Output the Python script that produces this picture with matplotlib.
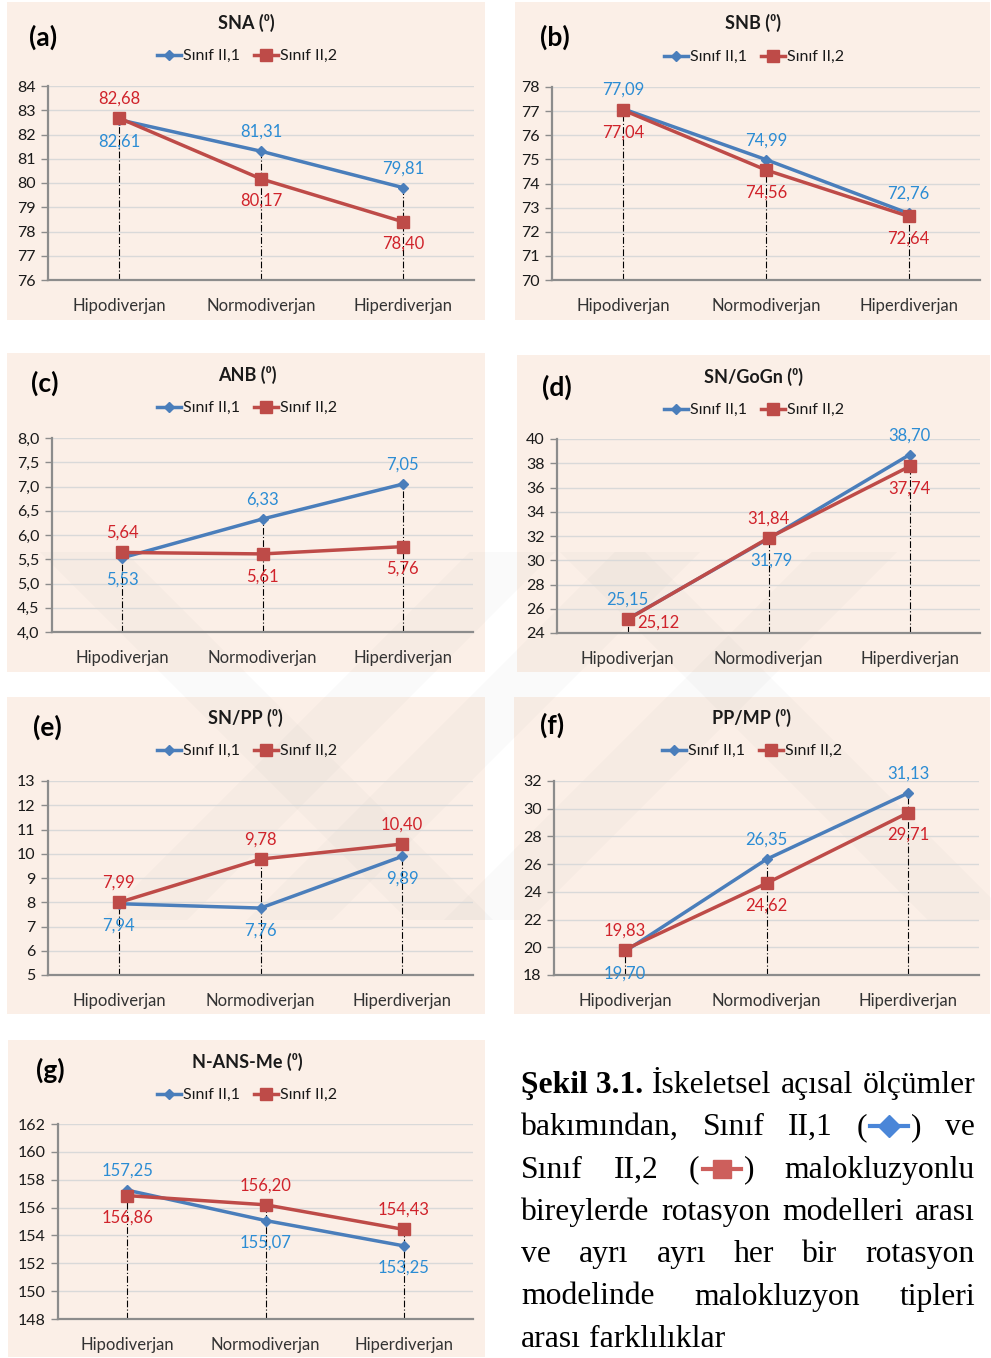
import matplotlib as ml
ml.use('Agg')
import matplotlib.pyplot as plt
from matplotlib.patches import Rectangle, Polygon
from matplotlib.lines import Line2D

W, H = 991, 1358

categories = ['Hipodiverjan', 'Normodiverjan', 'Hiperdiverjan']
series_names = ['Sınıf II,1', 'Sınıf II,2']

sna_1 = [82.61, 81.31, 79.81]
sna_2 = [82.68, 80.17, 78.40]
snb_1 = [77.09, 74.99, 72.76]
snb_2 = [77.04, 74.56, 72.64]
anb_1 = [5.53, 6.33, 7.05]
anb_2 = [5.64, 5.61, 5.76]
sngogn_1 = [25.15, 31.79, 38.70]
sngogn_2 = [25.12, 31.84, 37.74]
snpp_1 = [7.94, 7.76, 9.89]
snpp_2 = [7.99, 9.78, 10.40]
ppmp_1 = [19.70, 26.35, 31.13]
ppmp_2 = [19.83, 24.62, 29.71]
nansme_1 = [157.25, 155.07, 153.25]
nansme_2 = [156.86, 156.20, 154.43]

BLUE = '#4a7ebb'
RED = '#be4b48'
BLUE_TXT = '#2b8cd4'
RED_TXT = '#d0232b'
PANEL_BG = '#fbefe7'
SANS = ['Lato', 'DejaVu Sans']
SERIF = ['Liberation Serif', 'DejaVu Serif']

plt.rcParams['font.family'] = SANS


def fx(px):
    return px / W


def fy(py):
    return 1 - py / H


fig = plt.figure(figsize=(W / 100, H / 100), dpi=100)
fig.patch.set_facecolor('white')


# faint background logo, diagonal bands
def band(x_top, y0, y1, width, direction):
    dy = y1 - y0
    xb = x_top + direction * dy
    pts = [(x_top, y0), (x_top + width, y0), (xb + width, y1), (xb, y1)]
    return Polygon([(fx(a), fy(b)) for a, b in pts], closed=True,
                   transform=fig.transFigure, facecolor='#808080',
                   edgecolor='none', alpha=0.035, zorder=-1)


for xt, d in [(40, 1), (470, -1), (615, -1), (812, -1), (560, 1)]:
    fig.patches.append(band(xt, 552, 920, 85, d))


def panel(bg, ax_box, title, title_xy, tag, tag_xy, legend_xy,
          v1, v2, ylim, ystep, fmt, pos1, pos2):
    x0, y0, x1, y1 = bg
    fig.patches.append(Rectangle((fx(x0), fy(y1)), fx(x1 - x0), (y1 - y0) / H,
                                 transform=fig.transFigure, facecolor=PANEL_BG,
                                 edgecolor='none', zorder=-2))
    l, t, r, b = ax_box
    ax = fig.add_axes([fx(l), fy(b), fx(r - l), (b - t) / H])
    ax.set_facecolor('none')
    xs = list(range(len(categories)))

    # drop lines from the axis up to the higher point
    for i in xs:
        ax.plot([i, i], [ylim[0], max(v1[i], v2[i])], color='black', lw=0.8,
                ls=(0, (6, 2, 1, 2)), zorder=2)

    h1, = ax.plot(xs, v1, color=BLUE, lw=2.5, marker='D', ms=5,
                  mfc=BLUE, mec=BLUE, zorder=4, label=series_names[0])
    h2, = ax.plot(xs, v2, color=RED, lw=2.5, marker='s', ms=8,
                  mfc=RED, mec=RED, zorder=5, label=series_names[1])

    for vals, pos, col in [(v1, pos1, BLUE_TXT), (v2, pos2, RED_TXT)]:
        for i, v in enumerate(vals):
            ax.annotate(('%.2f' % v).replace('.', ','), (i, v),
                        xytext=pos[i], textcoords='offset points',
                        ha='center', va='center', fontsize=12, color=col,
                        zorder=6)

    ax.set_xlim(-0.5, len(categories) - 0.5)
    ax.set_ylim(*ylim)
    ticks = []
    t_ = ylim[0]
    while t_ <= ylim[1] + 1e-9:
        ticks.append(round(t_, 3))
        t_ += ystep
    ax.set_yticks(ticks)
    ax.set_yticklabels([(fmt % v).replace('.', ',') for v in ticks])
    ax.set_xticks(xs)
    ax.set_xticklabels(categories)
    ax.tick_params(axis='y', length=5, width=1, color='#8c8c8c', labelsize=11.5,
                   labelcolor='#1a1a1a', pad=4)
    ax.tick_params(axis='x', length=0, labelsize=12, labelcolor='#333333', pad=13)
    ax.grid(axis='y', color='#d9d9d9', lw=1)
    ax.set_axisbelow(True)
    for s in ['top', 'right']:
        ax.spines[s].set_visible(False)
    for s in ['left', 'bottom']:
        ax.spines[s].set_color('#8c8c8c')
        ax.spines[s].set_linewidth(1.6)

    fig.text(fx(title_xy[0]), fy(title_xy[1]), title, ha='center', va='center',
             fontsize=13, fontweight='bold', color='#1a1a1a')
    fig.text(fx(tag_xy[0]), fy(tag_xy[1]), tag, ha='center', va='center',
             fontsize=19, fontweight='bold', color='black')
    fig.legend(handles=[h1, h2], loc='center',
               bbox_to_anchor=(fx(legend_xy[0]), fy(legend_xy[1])),
               ncol=2, frameon=False, fontsize=11.5, handlelength=1.5,
               handletextpad=0.1, columnspacing=0.9, borderpad=0,
               labelcolor='#1a1a1a')
    return ax


UP = (0, 14)
DN = (0, -16)

panel((7, 2, 485, 320), (48, 86, 474, 280), 'SNA (⁰)', (246, 23), '(a)', (43, 37),
      (247, 56), sna_1, sna_2, (76, 84), 1, '%d', [DN, UP, UP], [UP, DN, DN])
panel((515, 2, 990, 320), (552, 87, 980, 280), 'SNB (⁰)', (753, 23), '(b)', (555, 37),
      (754, 57), snb_1, snb_2, (70, 78), 1, '%d', [UP, UP, UP], [DN, DN, DN])
panel((7, 353, 485, 672), (52, 438, 473, 632), 'ANB (⁰)', (247, 375), '(c)', (45, 383),
      (247, 408), anb_1, anb_2, (4.0, 8.0), 0.5, '%.1f', [DN, UP, UP], [UP, DN, DN])
panel((517, 355, 990, 672), (557, 439, 980, 633), 'SN/GoGn (⁰)', (753, 377), '(d)',
      (557, 387), (754, 410), sngogn_1, sngogn_2, (24, 40), 2, '%d',
      [UP, (2, -16), UP], [(22, -2), UP, DN])
panel((7, 697, 485, 1014), (48, 781, 473, 975), 'SN/PP (⁰)', (245, 718), '(e)', (47, 727),
      (247, 751), snpp_1, snpp_2, (5, 13), 1, '%d', [DN, DN, DN], [UP, UP, UP])
panel((514, 697, 990, 1014), (554, 781, 979, 975), 'PP/MP (⁰)', (752, 718), '(f)',
      (552, 725), (752, 751), ppmp_1, ppmp_2, (18, 32), 2, '%d',
      [DN, UP, UP], [UP, DN, DN])
panel((8, 1040, 485, 1357), (58, 1124, 473, 1319), 'N-ANS-Me (⁰)', (247, 1062), '(g)',
      (50, 1070), (247, 1095), nansme_1, nansme_2, (148, 162), 2, '%d',
      [UP, DN, DN], [DN, UP, UP])

# caption, justified word by word
cap_lines = [
    [('Şekil 3.1.', 'bold'), ('İskeletsel', 'normal'), ('açısal', 'normal'),
     ('ölçümler', 'normal')],
    [('bakımından,', 'normal'), ('Sınıf', 'normal'), ('II,1', 'normal'),
     ('SYM1', None), ('ve', 'normal')],
    [('Sınıf', 'normal'), ('II,2', 'normal'), ('SYM2', None),
     ('malokluzyonlu', 'normal')],
    [('bireylerde', 'normal'), ('rotasyon', 'normal'), ('modelleri', 'normal'),
     ('arası', 'normal')],
    [('ve', 'normal'), ('ayrı', 'normal'), ('ayrı', 'normal'), ('her', 'normal'),
     ('bir', 'normal'), ('rotasyon', 'normal')],
    [('modelinde', 'normal'), ('malokluzyon', 'normal'), ('tipleri', 'normal')],
    [('arası', 'normal'), ('farklılıklar', 'normal')],
]
CAP_LEFT, CAP_RIGHT = 521, 975
CAP_Y0, CAP_DY = 1093, 42.3
CAP_SIZE = 22.8
SYM_W = 44

fig.canvas.draw()
rend = fig.canvas.get_renderer()


def text_w(s, weight):
    t = fig.text(0, 0, s, fontsize=CAP_SIZE, family=SERIF, fontweight=weight)
    w = t.get_window_extent(rend).width
    t.remove()
    return w


paren_w = text_w('(', 'normal')
close_w = text_w(')', 'normal')
space_w = text_w('a a', 'normal') - text_w('aa', 'normal')

for li, words in enumerate(cap_lines):
    y = CAP_Y0 + li * CAP_DY
    widths = []
    for s, wt in words:
        if s.startswith('SYM'):
            widths.append(paren_w + SYM_W + close_w)
        else:
            widths.append(text_w(s, wt))
    if li == len(cap_lines) - 1:
        gap = space_w
    else:
        gap = (CAP_RIGHT - CAP_LEFT - sum(widths)) / (len(words) - 1)
    x = CAP_LEFT
    for (s, wt), w in zip(words, widths):
        if s.startswith('SYM'):
            fig.text(fx(x), fy(y), '(', fontsize=CAP_SIZE, family=SERIF,
                     va='baseline', ha='left')
            cx0 = x + paren_w + 3
            cx1 = x + paren_w + SYM_W - 3
            ym = y - 9
            if s == 'SYM1':
                col, mk, ms = '#4a86d8', 'D', 11
            else:
                col, mk, ms = '#cd5f5c', 's', 13
            fig.add_artist(Line2D([fx(cx0), fx(cx1)], [fy(ym), fy(ym)],
                                  transform=fig.transFigure, color=col, lw=3))
            fig.add_artist(Line2D([fx((cx0 + cx1) / 2)], [fy(ym)],
                                  transform=fig.transFigure, color=col,
                                  marker=mk, ms=ms, mec=col, mfc=col))
            fig.text(fx(x + paren_w + SYM_W), fy(y), ')', fontsize=CAP_SIZE,
                     family=SERIF, va='baseline', ha='left')
        else:
            fig.text(fx(x), fy(y), s, fontsize=CAP_SIZE, family=SERIF,
                     fontweight=wt, va='baseline', ha='left', color='black')
        x += w + gap

fig.savefig('out.png', dpi=100, facecolor='white')
